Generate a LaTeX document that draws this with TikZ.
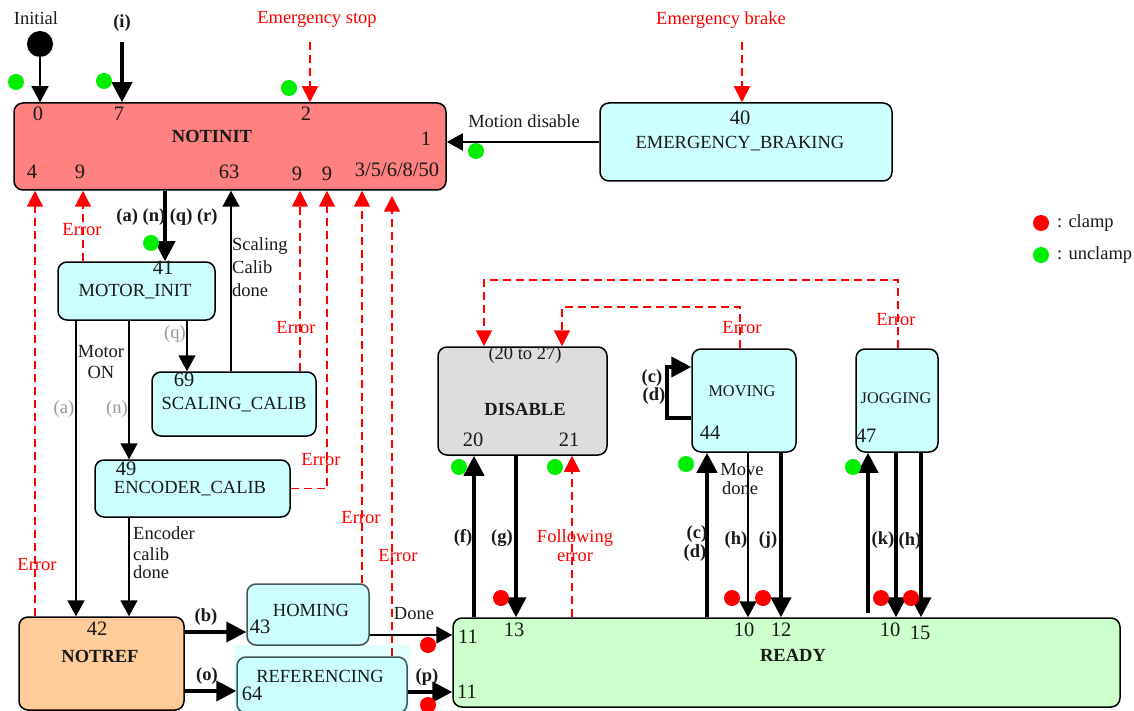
\documentclass[tikz,border=0pt]{standalone}
\usepackage{fontspec}
\setmainfont{Liberation Serif}
\usetikzlibrary{arrows.meta}
\definecolor{nred}{HTML}{FF8080}
\definecolor{ncyan}{HTML}{CCFFFF}
\definecolor{ncyanbg}{HTML}{E0FFFF}
\definecolor{norange}{HTML}{FFCC99}
\definecolor{ngreen}{HTML}{CCFFCC}
\definecolor{ngray}{HTML}{DDDDDD}
\definecolor{dotgreen}{HTML}{00EE00}
\definecolor{dotred}{HTML}{FF0000}
\definecolor{lblgray}{HTML}{999999}
\definecolor{boxedge}{HTML}{3F5555}
\begin{document}
\begin{tikzpicture}[x=1pt,y={(0pt,-1pt)},
  box/.style={draw=black, line width=1.5pt, rounded corners=9pt, inner sep=0pt},
  txt/.style={font=\fontsize{18.5}{20}\selectfont, inner sep=0pt, text=black!90},
  btxt/.style={font=\fontsize{18.5}{20}\selectfont\bfseries, inner sep=0pt, text=black!90},
  stxt/.style={font=\fontsize{16.3}{18}\selectfont, inner sep=0pt, text=black!90},
  num/.style={font=\fontsize{20.5}{22}\selectfont, inner sep=0pt, text=black!90},
  rtxt/.style={font=\fontsize{18.5}{20}\selectfont, inner sep=0pt, text=red},
  gtxt/.style={font=\fontsize{18.5}{20}\selectfont, inner sep=0pt, text=lblgray},
  thinarr/.style={draw=black, line width=1.6pt, -{Triangle[length=16pt,width=17pt]}},
  thkarr/.style={draw=black, line width=4pt, -{Triangle[length=20pt,width=20pt]}},
  err/.style={draw=red, line width=1.8pt, dash pattern=on 8pt off 5pt, -{Triangle[length=16pt,width=16pt]}},
  gdot/.style={circle, fill=dotgreen, minimum size=16pt, inner sep=0pt},
  rdot/.style={circle, fill=dotred, minimum size=16pt, inner sep=0pt}
]
\useasboundingbox (0,0) rectangle (1134,711);
% ---- boxes
\node[box, fill=nred, minimum width=432pt, minimum height=87pt] (notinit) at (230,146.5) {};
\node[box, fill=ncyan, minimum width=292pt, minimum height=78pt] (eb) at (746,142) {};
\node[box, fill=ncyan, minimum width=157pt, minimum height=58pt] (motorinit) at (136.5,291) {};
\node[box, fill=ncyan, minimum width=164pt, minimum height=64pt] (scaling) at (234,404) {};
\node[box, fill=ncyan, minimum width=195pt, minimum height=57pt] (encoder) at (192.5,488.5) {};
\node[box, fill=norange, minimum width=165pt, minimum height=93pt] (notref) at (101.5,663.5) {};
\fill[ncyanbg] (234,645) rectangle (410,711);
\node[box, draw=boxedge, fill=ncyan, minimum width=122pt, minimum height=61pt] (homing) at (308,614.5) {};
\node[box, draw=boxedge, fill=ncyan, minimum width=170pt, minimum height=56pt] (referencing) at (322,685) {};
\node[box, fill=ngreen, minimum width=667pt, minimum height=89pt] (ready) at (786.5,662.5) {};
\node[box, fill=ngray, minimum width=169pt, minimum height=108pt] (disable) at (522.5,401) {};
\node[box, fill=ncyan, minimum width=104pt, minimum height=103pt] (moving) at (744,400.5) {};
\node[box, fill=ncyan, minimum width=82pt, minimum height=103pt] (jogging) at (897,400.5) {};
\node[circle, fill=black, minimum size=26pt, inner sep=0pt] (init) at (40,44) {};
\coordinate (istart) at (122,42);
\coordinate (esstart) at (310,42);
\coordinate (ebstart) at (742,42);
% ---- connectors
\draw[thinarr] (init) -- (notinit.north -| 40,0);
\draw[thkarr] (istart) -- (notinit.north -| 122,0);
\draw[err] (esstart) -- (notinit.north -| 310,0);
\draw[err] (ebstart) -- (eb.north -| 742,0);
\draw[thinarr] (eb.west) -- (notinit.east |- eb.west);
\draw[thkarr] (notinit.south -| 165,0) -- (motorinit.north -| 165,0);
\draw[thinarr] (scaling.north -| 231,0) -- (notinit.south -| 231,0);
\draw[thinarr] (motorinit.south -| 187,0) -- (scaling.north -| 187,0);
\draw[thinarr] (motorinit.south -| 129,0) -- (encoder.north -| 129,0);
\draw[thinarr] (motorinit.south -| 76,0) -- (notref.north -| 76,0);
\draw[thinarr] (encoder.south -| 129,0) -- (notref.north -| 129,0);
\draw[err] (notref.north -| 35,0) -- (notinit.south -| 35,0);
\draw[err] (motorinit.north -| 83,0) -- (notinit.south -| 83,0);
\draw[err] (scaling.north -| 300,0) -- (notinit.south -| 300,0);
\draw[err] (encoder.east) -| (notinit.south -| 327,0);
\draw[err] (homing.north -| 362,0) -- (notinit.south -| 362,0);
\draw[err] (referencing.north -| 392,0) -- ([yshift=-5pt]notinit.south -| 392,0);
\draw[thkarr] (notref.east |- 0,632) -- (homing.west |- 0,632);
\draw[thkarr] (notref.east |- 0,691) -- (referencing.west |- 0,691);
\draw[thinarr] (homing.east |- 0,635) -- (ready.west |- 0,635);
\draw[thkarr] (referencing.east |- 0,692) -- (ready.west |- 0,692);
\draw[thkarr] (ready.north -| 474,0) -- (disable.south -| 474,0);
\draw[thkarr] (disable.south -| 516,0) -- (ready.north -| 516,0);
\draw[err] (ready.north -| 572,0) -- (disable.south -| 572,0);
\draw[err] (moving.north -| 740,0) -- ++(0,-41) -| (disable.north -| 562,0);
\draw[err] (jogging.north -| 898,0) -- ++(0,-68) -| (disable.north -| 484,0);
\draw[thkarr] (moving.west |- 0,418) -- ++(-24,0) -- ++(0,-51) -- (moving.west |- 0,367);
\draw[thkarr] (ready.north -| 707,0) -- (moving.south -| 707,0);
\draw[thinarr] (moving.south -| 748,0) -- (ready.north -| 748,0);
\draw[thkarr] (moving.south -| 781,0) -- (ready.north -| 781,0);
\draw[thkarr] ([yshift=4pt]ready.north -| 868,0) -- (jogging.south -| 868,0);
\draw[thkarr] (jogging.south -| 896,0) -- (ready.north -| 896,0);
\draw[thkarr] (jogging.south -| 921,0) -- (ready.north -| 921,0);
% ---- dots
\node[gdot] (g1) at (16,82) {};
\node[gdot] (g2) at (104,81) {};
\node[gdot] (g3) at (289,88) {};
\node[gdot] (g4) at (476,151) {};
\node[gdot] (g5) at (151,243) {};
\node[gdot] (g6) at (459,467) {};
\node[gdot] (g7) at (555,467) {};
\node[gdot] (g8) at (686,464) {};
\node[gdot] (g9) at (853,467) {};
\node[gdot] (g10) at (1041,255) {};
\node[rdot] (r1) at (501,598) {};
\node[rdot] (r2) at (732,598) {};
\node[rdot] (r3) at (763,598) {};
\node[rdot] (r4) at (881,598) {};
\node[rdot] (r5) at (911,598) {};
\node[rdot] (r6) at (428,645) {};
\node[rdot] (r7) at (428,705) {};
\node[rdot] (r8) at (1041,223) {};
% ---- texts
\node[txt] (t1) at (36,18) {Initial};
\node[btxt] (t2) at (122,23) {(i)};
\node[rtxt] (t3) at (317,19) {Emergency stop};
\node[rtxt] (t4) at (721,20) {Emergency brake};
\node[txt] (t5) at (524,121) {Motion disable};
\node[num] (n0) at (38,114) {0};
\node[num] (n7) at (119,114) {7};
\node[num] (n2) at (306,114) {2};
\node[btxt] (tnotinit) at (212,136) {NOTINIT};
\node[num] (n1) at (426,139) {1};
\node[num] (n4) at (32,172) {4};
\node[num] (n9a) at (80,172) {9};
\node[num] (n63) at (229,172) {63};
\node[num] (n9b) at (297,174) {9};
\node[num] (n9c) at (327,174) {9};
\node[num] (n3) at (397,170) {3/5/6/8/50};
\node[num] (n40) at (740,118) {40};
\node[txt] (teb) at (740,144) {EMERGENCY\_BRAKING};
\node[btxt] (tanqr) at (167,217) {(a) (n) (q) (r)};
\node[num] (n41) at (163,268) {41};
\node[txt] (tmi) at (135,292) {MOTOR\_INIT};
\node[txt, anchor=west] (ts1) at (232,246) {Scaling};
\node[txt, anchor=west] (ts2) at (232,267) {Calib};
\node[txt, anchor=west] (ts3) at (232,290) {done};
\node[rtxt] (e1) at (82,230) {Error};
\node[rtxt] (e2) at (296,328) {Error};
\node[rtxt] (e3) at (321,460) {Error};
\node[rtxt] (e4) at (361,518) {Error};
\node[rtxt] (e5) at (398,556) {Error};
\node[rtxt] (e6) at (37,565) {Error};
\node[rtxt] (e7) at (742,328) {Error};
\node[rtxt] (e8) at (896,320) {Error};
\node[gtxt] (gq) at (175,334) {(q)};
\node[txt] (tm1) at (101,352) {Motor};
\node[txt] (tm2) at (101,372) {ON};
\node[gtxt] (ga) at (64,409) {(a)};
\node[gtxt] (gn) at (117,409) {(n)};
\node[num] (n69) at (184,380) {69};
\node[txt] (tsc) at (234,405) {SCALING\_CALIB};
\node[num] (n49) at (126,469) {49};
\node[txt] (tec) at (190,489) {ENCODER\_CALIB};
\node[txt, anchor=west] (te1) at (133,533) {Encoder};
\node[txt, anchor=west] (te2) at (133,554) {calib};
\node[txt, anchor=west] (te3) at (133,572) {done};
\node[num] (n42) at (97,629) {42};
\node[btxt] (tnr) at (100,656) {NOTREF};
\node[btxt] (tb) at (206,617) {(b)};
\node[btxt] (to) at (207,676) {(o)};
\node[txt] (thm) at (311,610) {HOMING};
\node[num] (n43) at (260,627) {43};
\node[txt] (tref) at (320,676) {REFERENCING};
\node[num] (n64) at (252,694) {64};
\node[txt] (tdone) at (414,614) {Done};
\node[btxt] (tp) at (427,677) {(p)};
\node[num] (n11a) at (468,637) {11};
\node[num] (n11b) at (467,692) {11};
\node[btxt] (tready) at (793,655) {READY};
\node[num] (n13) at (514,630) {13};
\node[num] (n10a) at (744,630) {10};
\node[num] (n12) at (781,630) {12};
\node[num] (n10b) at (890,630) {10};
\node[num] (n15) at (920,633) {15};
\node[txt] (t2027) at (525,355) {(20 to 27)};
\node[btxt] (tdis) at (525,409) {DISABLE};
\node[num] (n20) at (473,440) {20};
\node[num] (n21) at (569,440) {21};
\node[btxt] (tf) at (463,538) {(f)};
\node[btxt] (tg) at (502,538) {(g)};
\node[rtxt] (tfe1) at (575,538) {Following};
\node[rtxt] (tfe2) at (575,557) {error};
\node[stxt] (tmov) at (742,391) {MOVING};
\node[num] (n44) at (710,433) {44};
\node[btxt] (tc1) at (652,378) {(c)};
\node[btxt] (td1) at (654,396) {(d)};
\node[btxt] (tc2) at (697,534) {(c)};
\node[btxt] (td2) at (695,553) {(d)};
\node[txt] (tmd1) at (742,470) {Move};
\node[txt] (tmd2) at (740,488) {done};
\node[btxt] (th1) at (736,540) {(h)};
\node[btxt] (tj) at (768,540) {(j)};
\node[stxt] (tjog) at (896,398) {JOGGING};
\node[num] (n47) at (866,436) {47};
\node[btxt] (tk) at (883,540) {(k)};
\node[btxt] (th2) at (910,541) {(h)};
\node[txt, anchor=west] (lc) at (1057,223) {: clamp};
\node[txt, anchor=west] (lu) at (1057,255) {: unclamp};
\end{tikzpicture}
\end{document}
